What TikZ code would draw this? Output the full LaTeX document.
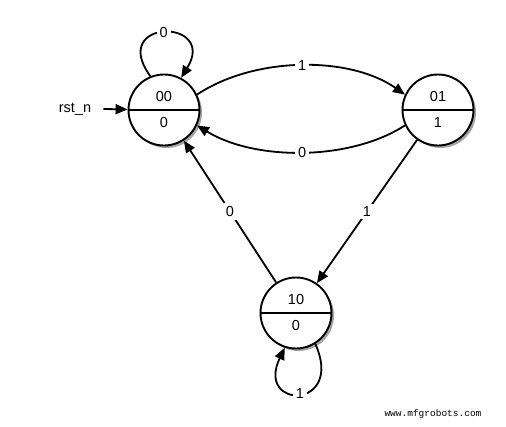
\documentclass[tikz,border=0pt]{standalone}
\usepackage{fontspec}
\setmainfont{Liberation Sans}
\newfontfamily\wmfont{Liberation Mono}
\usetikzlibrary{arrows.meta,shadows}
\begin{document}
\begin{tikzpicture}[x=1pt,y=-1pt,
  font=\fontsize{14.5}{16}\selectfont,
  state/.style={circle,draw,line width=1.9pt,minimum size=71pt,inner sep=0pt,fill=white,
    drop shadow={shadow xshift=2.5pt,shadow yshift=-2.5pt,fill=black!45,opacity=0.8}},
  arr/.style={line width=1.8pt,-{Triangle[length=12pt,width=10pt]}},
  lbl/.style={fill=white,inner sep=3pt}]
\useasboundingbox (0,0) rectangle (506,426);
\node[state] (s00) at (164,110) {};
\node[state] (s01) at (438,110) {};
\node[state] (s10) at (296,313) {};
\foreach \n/\a/\b in {s00/00/0,s01/01/1,s10/10/0}{
  \draw[line width=1.9pt] (\n.180) -- (\n.0);
  \node (\n t) at ([yshift=13pt]\n.center) {\a};
  \node (\n b) at ([yshift=-13pt]\n.center) {\b};
}
\node[inner xsep=12pt] (rst) at (75,109) {rst\_n};
\draw[arr] (rst.east) -- (s00);
\draw[arr] (s00.25) .. controls (255,56) and (350,56) .. node[lbl] (l1) {1} (s01.155);
\draw[arr] (s01.205) .. controls (350,161) and (255,161) .. node[lbl] (l2) {0} (s00.-25);
\draw[arr] (s10) -- node[lbl] (l3) {0} (s00);
\draw[arr] (s01) -- node[lbl] (l4) {1} (s10);
\draw[arr] (s00.112) .. controls (108,18) and (218,18) .. node[lbl] (l5) {0} (s00.62);
\draw[arr] (s10.-58) .. controls (345,410) and (255,410) .. node[lbl] (l6) {1} (s10.-108);
\node (wm) at (433,414) {\wmfont\fontsize{9.5}{11}\selectfont www.mfgrobots.com};
\end{tikzpicture}
\end{document}
